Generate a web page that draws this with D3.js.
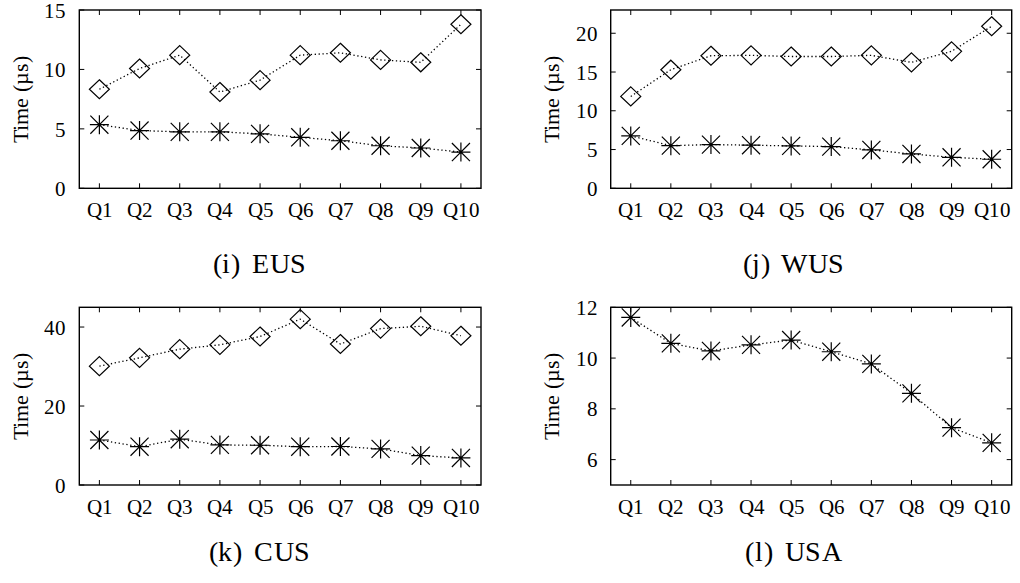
<!DOCTYPE html>
<html>
<head>
<meta charset="utf-8">
<script src="https://cdn.jsdelivr.net/npm/d3@7"></script>
<style>
  @font-face {
    font-family: "PlotSerif";
    src: local("Liberation Serif"), local("LiberationSerif"), local("LiberationSerif-Regular"),
         local("Times New Roman"), local("DejaVu Serif"), local("DejaVuSerif");
  }
  html, body { margin: 0; padding: 0; background: #fff; }
  svg { display: block; }
  svg text { font-family: PlotSerif, "Liberation Serif", "DejaVu Serif", serif; fill: #000; }
</style>
</head>
<body>
<svg id="chart" width="1020" height="583"></svg>
<script>
// Query labels on the x axis
const categories = ["Q1", "Q2", "Q3", "Q4", "Q5", "Q6", "Q7", "Q8", "Q9", "Q10"];

// Query times in microseconds, per region (diamond series, star series)
const eusDiamond = [8.33, 10.08, 11.2, 8.1, 9.1, 11.2, 11.4, 10.8, 10.6, 13.8];
const eusStar    = [5.35, 4.86, 4.75, 4.75, 4.58, 4.29, 4.0, 3.58, 3.39, 3.05];
const wusDiamond = [11.85, 15.3, 17.1, 17.15, 17.0, 17.0, 17.15, 16.25, 17.67, 20.9];
const wusStar    = [6.76, 5.5, 5.64, 5.56, 5.47, 5.38, 4.95, 4.43, 4.0, 3.75];
const cusDiamond = [30.1, 32.2, 34.4, 35.5, 37.6, 42.0, 35.7, 39.6, 40.2, 37.8];
const cusStar    = [11.4, 9.7, 11.6, 10.15, 10.07, 9.7, 9.75, 9.14, 7.45, 6.85];
const usaStar    = [11.6, 10.58, 10.28, 10.52, 10.71, 10.25, 9.77, 8.61, 7.26, 6.66];

// Y axis tick values and domains
const eusTicks = [0, 5, 10, 15];
const wusTicks = [0, 5, 10, 15, 20];
const cusTicks = [0, 20, 40];
const usaTicks = [6, 8, 10, 12];
const eusDomain = [0, 15];
const wusDomain = [0, 23];
const cusDomain = [0, 45];
const usaDomain = [5, 12];

// Sub-figure captions
const captions = ["(i) EUS", "(j) WUS", "(k) CUS", "(l) USA"];
const yLabel = "Time (\u00b5s)";

const FONT = "PlotSerif, 'Liberation Serif', 'DejaVu Serif', serif";

const panels = [
  { caption: captions[0], domain: eusDomain, ticks: eusTicks, diamond: eusDiamond, star: eusStar,
    left: 79.3, right: 481, top: 10, bottom: 188.3, capX: 260, capY: 273 },
  { caption: captions[1], domain: wusDomain, ticks: wusTicks, diamond: wusDiamond, star: wusStar,
    left: 610.7, right: 1011.7, top: 10, bottom: 188.3, capX: 794, capY: 273 },
  { caption: captions[2], domain: cusDomain, ticks: cusTicks, diamond: cusDiamond, star: cusStar,
    left: 79.3, right: 481, top: 307.3, bottom: 485, capX: 260, capY: 561 },
  { caption: captions[3], domain: usaDomain, ticks: usaTicks, diamond: null, star: usaStar,
    left: 610.7, right: 1011.7, top: 307.3, bottom: 485, capX: 794, capY: 561 }
];

const svg = d3.select("#chart");
const TICK = 5;
const STAR = 9.5;
const DIA = 10;

function starPath(r) {
  const d = r * 0.95;
  return `M${-r},0H${r}M0,${-r}V${r}M${-d},${-d}L${d},${d}M${-d},${d}L${d},${-d}`;
}
function diamondPath(r) {
  const v = r * 0.95;
  return `M0,${-v}L${r},0L0,${v}L${-r},0Z`;
}

panels.forEach(p => {
  const g = svg.append("g");
  const x = d3.scalePoint().domain(categories).range([p.left, p.right]).padding(0.5);
  const y = d3.scaleLinear().domain(p.domain).range([p.bottom, p.top]);

  // Bottom axis labels
  const xAxis = d3.axisBottom(x).tickSize(0).tickPadding(0);
  const xg = g.append("g").attr("transform", `translate(0,${p.bottom})`).call(xAxis)
    .attr("font-family", null);
  xg.select(".domain").remove();
  xg.selectAll("text")
    .attr("y", 0).attr("dy", 0)
    .attr("transform", "translate(0,28.5)")
    .style("font-size", "21px")
    .style("font-family", FONT);

  // Left axis labels
  const yAxis = d3.axisLeft(y).tickValues(p.ticks).tickFormat(d3.format("d")).tickSize(0).tickPadding(13);
  const yg = g.append("g").attr("transform", `translate(${p.left},0)`).call(yAxis)
    .attr("font-family", null);
  yg.select(".domain").remove();
  yg.selectAll("text")
    .attr("dy", "0.34em")
    .style("font-size", "21px")
    .style("font-family", FONT);

  // Inward mirrored ticks
  const tk = g.append("g").attr("stroke", "#000").attr("stroke-width", 1);
  categories.forEach(c => {
    tk.append("line").attr("x1", x(c)).attr("x2", x(c)).attr("y1", p.bottom).attr("y2", p.bottom - TICK);
    tk.append("line").attr("x1", x(c)).attr("x2", x(c)).attr("y1", p.top).attr("y2", p.top + TICK);
  });
  p.ticks.forEach(t => {
    tk.append("line").attr("x1", p.left).attr("x2", p.left + TICK).attr("y1", y(t)).attr("y2", y(t));
    tk.append("line").attr("x1", p.right).attr("x2", p.right - TICK).attr("y1", y(t)).attr("y2", y(t));
  });

  // Series lines and markers
  const line = d3.line().x((d, i) => x(categories[i])).y(d => y(d));
  const series = [];
  if (p.diamond) series.push({ values: p.diamond, path: diamondPath(DIA) });
  series.push({ values: p.star, path: starPath(STAR) });

  series.forEach(s => {
    g.append("path")
      .datum(s.values)
      .attr("d", line)
      .attr("fill", "none")
      .attr("stroke", "#000")
      .attr("stroke-width", 1.3)
      .attr("stroke-dasharray", "1.3,2.6");
    g.selectAll(null)
      .data(s.values)
      .enter()
      .append("path")
      .attr("transform", (d, i) => `translate(${x(categories[i])},${y(d)})`)
      .attr("d", s.path)
      .attr("fill", "none")
      .attr("stroke", "#000")
      .attr("stroke-width", 1.2);
  });

  // Frame
  g.append("rect")
    .attr("x", p.left).attr("y", p.top)
    .attr("width", p.right - p.left).attr("height", p.bottom - p.top)
    .attr("fill", "none").attr("stroke", "#000").attr("stroke-width", 1.4);

  // Y axis title
  g.append("text")
    .attr("transform", `translate(${p.left - 59},${(p.top + p.bottom) / 2}) rotate(-90)`)
    .attr("text-anchor", "middle")
    .attr("dy", "0.35em")
    .style("font-family", FONT)
    .style("font-size", "22px")
    .text(yLabel);

  // Caption
  g.append("text")
    .attr("x", p.capX).attr("y", p.capY)
    .attr("text-anchor", "middle")
    .style("font-family", FONT)
    .style("font-size", "28px")
    .style("letter-spacing", "0.6px")
    .style("word-spacing", "4px")
    .text(p.caption);
});
</script>
</body>
</html>
